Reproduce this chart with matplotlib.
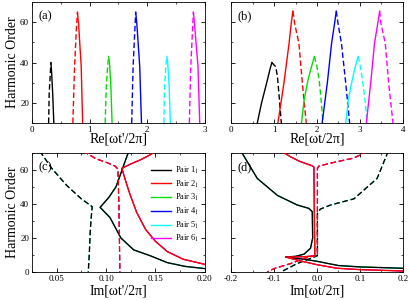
import numpy as np
import matplotlib
matplotlib.use('Agg')
import matplotlib.pyplot as plt
from matplotlib.ticker import MultipleLocator, FormatStrFormatter

plt.rcParams['font.family'] = ['Liberation Serif', 'DejaVu Serif']
plt.rcParams['mathtext.fontset'] = 'stix'

colors = ['k', 'r', '#00e000', '#0000ff', '#00ffff', '#ff00ff']
labels = ['Pair 1$_1$', 'Pair 2$_1$', 'Pair 3$_1$', 'Pair 4$_1$', 'Pair 5$_1$', 'Pair 6$_1$']

# (a) Re[wt'/2pi] vs harmonic order, solid / dashed branch for each pair
a_solid_x = [[0.38, 0.36, 0.34, 0.33], [0.88, 0.855, 0.81, 0.79], [1.39, 1.37, 1.345, 1.33],
             [1.90, 1.87, 1.82, 1.80], [2.40, 2.38, 2.355, 2.34], [2.91, 2.88, 2.82, 2.80]]
a_solid_y = [[10, 25, 36, 40], [10, 38, 59, 65], [10, 28, 40, 43],
             [10, 38, 59, 65], [10, 28, 40, 43], [10, 38, 59, 65]]
a_dash_x = [[0.29, 0.30, 0.32, 0.33], [0.71, 0.74, 0.77, 0.79], [1.27, 1.29, 1.315, 1.33],
            [1.73, 1.755, 1.785, 1.80], [2.29, 2.30, 2.325, 2.34], [2.73, 2.755, 2.785, 2.80]]
a_dash_y = [[10, 25, 35, 40], [10, 38, 56, 65], [10, 28, 39, 43],
            [10, 38, 56, 65], [10, 28, 39, 43], [10, 38, 56, 65]]

# (b) Re[wt/2pi]
b_solid_x = [[0.61, 0.71, 0.83, 0.91, 0.95], [1.09, 1.23, 1.35, 1.40, 1.44], [1.64, 1.70, 1.79, 1.86, 1.94],
             [2.12, 2.24, 2.34, 2.41, 2.45], [2.67, 2.73, 2.82, 2.88, 2.96], [3.15, 3.25, 3.34, 3.42, 3.46]]
b_solid_y = [[10, 20, 30, 37, 40], [10, 29.7, 49.5, 59.4, 65.5], [10, 21.4, 31.3, 37, 43],
             [10, 29.7, 49.5, 59.4, 65.5], [10, 21.4, 31.3, 37, 43], [10, 29.7, 49.5, 60, 65.5]]
b_dash_x = [[0.95, 1.04, 1.08, 1.12, 1.17], [1.44, 1.48, 1.58, 1.66, 1.75], [1.94, 2.00, 2.05, 2.09, 2.14],
            [2.45, 2.49, 2.57, 2.67, 2.76], [2.96, 3.01, 3.06, 3.11, 3.17], [3.46, 3.49, 3.59, 3.67, 3.77]]
b_dash_y = [[40, 37.9, 33, 23, 10], [65.5, 59.4, 49.5, 29.7, 10], [43, 38, 31.3, 23, 10],
            [65.5, 59.4, 49.5, 29.7, 10], [43, 38, 31.3, 23, 10], [65.5, 59.4, 49.5, 29.7, 10]]

# (c) Im[wt'/2pi], pairs 1 and 2 (odd / even pairs coincide)
c_solid_x = [[0.123, 0.118, 0.115, 0.110, 0.103, 0.094, 0.104, 0.115, 0.128, 0.145, 0.162, 0.180, 0.200],
             [0.150, 0.145, 0.135, 0.125, 0.116, 0.119, 0.124, 0.131, 0.140, 0.150, 0.162, 0.178, 0.200]]
c_solid_y = [[71, 63, 58, 50, 44, 38, 32, 20, 13, 9.5, 5.5, 3.3, 2],
             [71, 69, 66, 63.5, 61, 55, 46, 35, 25, 18, 12, 7.5, 4.5]]
c_dash_x = [[0.033, 0.045, 0.060, 0.075, 0.086, 0.085, 0.084, 0.083, 0.082],
            [0.077, 0.090, 0.100, 0.109, 0.112, 0.113, 0.1135, 0.114]]
c_dash_y = [[71, 61, 51, 43, 38.4, 32, 23.7, 10, 0],
            [71, 66.5, 64.5, 62.3, 60.5, 40, 20, 0]]

# (d) Im[wt/2pi]
d_solid_x = [[-0.177, -0.139, -0.092, -0.046, -0.019, -0.011, -0.010, -0.015, -0.030, -0.050, -0.073,
              -0.030, 0.0, 0.050, 0.100, 0.200],
             [-0.086, -0.060, -0.040, -0.012, -0.007, -0.006, -0.005, -0.030, -0.073, -0.040, 0.0, 0.047, 0.100, 0.200]]
d_solid_y = [[71, 55, 45, 39.4, 37.4, 35.5, 20, 14, 10.5, 9.2, 8.8, 7.5, 6.3, 3.8, 3.0, 2.2],
             [71.5, 67.5, 65, 62.5, 61.6, 30, 9.5, 9.0, 8.8, 6.6, 4.3, 2.2, 1.4, 0.6]]
d_dash_x = [[0.166, 0.140, 0.086, 0.032, 0.008, 0.001, 0.001, 0.001, -0.020, -0.046, -0.084],
            [0.117, 0.086, 0.032, 0.004, 0.001, 0.001, 0.001, -0.030, -0.061, -0.100, -0.116]]
d_dash_y = [[71, 55, 43, 39.4, 37, 34.5, 20, 9.6, 7.5, 5, 0],
            [71, 67, 64, 62.2, 60.8, 30, 10, 8, 5, 2, 0]]

fig = plt.figure(figsize=(4.09, 3.0), dpi=100)
ax_a = fig.add_axes([0.078, 0.59, 0.423, 0.403])
ax_b = fig.add_axes([0.565, 0.59, 0.42, 0.403])
ax_c = fig.add_axes([0.078, 0.0933, 0.423, 0.397])
ax_d = fig.add_axes([0.565, 0.0933, 0.42, 0.397])

lw = 1.0
dash = (4, 2)

for i in range(6):
    ax_a.plot(a_solid_x[i], a_solid_y[i], color=colors[i], lw=lw)
    ax_a.plot(a_dash_x[i], a_dash_y[i], color=colors[i], lw=lw, dashes=dash)
    ax_b.plot(b_solid_x[i], b_solid_y[i], color=colors[i], lw=lw)
    ax_b.plot(b_dash_x[i], b_dash_y[i], color=colors[i], lw=lw, dashes=dash)

# pairs 3-6 sit underneath pairs 1-2 in the imaginary parts (thinner, same dash phase)
for i in range(6):
    j = i % 2
    z = 3 if i < 2 else 2
    w = lw if i < 2 else 0.7
    dd = (dash[0] * lw / w, dash[1] * lw / w)
    for ax, sx, sy, dx, dy in [(ax_c, c_solid_x, c_solid_y, c_dash_x, c_dash_y),
                               (ax_d, d_solid_x, d_solid_y, d_dash_x, d_dash_y)]:
        ax.plot(sx[j], sy[j], color=colors[i], lw=w, zorder=z, label=labels[i] if ax is ax_c else None)
        ax.plot(dx[j], dy[j], color=colors[i], lw=w, dashes=dd, zorder=z)

ax_a.set_xlim(0, 3)
ax_a.set_ylim(10, 70)
ax_b.set_xlim(0, 4)
ax_b.set_ylim(10, 70)
ax_c.set_xlim(0.025, 0.2)
ax_c.set_ylim(0, 70)
ax_d.set_xlim(-0.2, 0.2)
ax_d.set_ylim(0, 70)

ax_a.xaxis.set_major_locator(MultipleLocator(1))
ax_b.xaxis.set_major_locator(MultipleLocator(1))
ax_a.xaxis.set_minor_locator(MultipleLocator(0.5))
ax_b.xaxis.set_minor_locator(MultipleLocator(0.5))
ax_c.xaxis.set_major_locator(MultipleLocator(0.05))
ax_c.xaxis.set_minor_locator(MultipleLocator(0.025))
ax_c.xaxis.set_major_formatter(FormatStrFormatter('%.2f'))
ax_d.xaxis.set_major_locator(MultipleLocator(0.1))
ax_d.xaxis.set_minor_locator(MultipleLocator(0.05))
ax_d.xaxis.set_major_formatter(FormatStrFormatter('%.1f'))

for ax in [ax_a, ax_b, ax_c, ax_d]:
    ax.yaxis.set_major_locator(MultipleLocator(20))
    ax.yaxis.set_minor_locator(MultipleLocator(10))
    ax.tick_params(which='both', direction='in', top=True, right=True, labelsize=6.5, pad=2)
    ax.tick_params(which='major', length=3, width=0.6)
    ax.tick_params(which='minor', length=1.5, width=0.5)
    for s in ax.spines.values():
        s.set_linewidth(0.6)

ax_b.tick_params(labelleft=False)
ax_d.tick_params(labelleft=False)

ax_a.set_ylabel('Harmonic Order', fontsize=10, labelpad=1)
ax_c.set_ylabel('Harmonic Order', fontsize=10, labelpad=1)
ax_a.set_xlabel("Re[\u03c9t'/2\u03c0]", fontsize=10, labelpad=-1)
ax_b.set_xlabel("Re[\u03c9t/2\u03c0]", fontsize=10, labelpad=-1)
ax_c.set_xlabel("Im[\u03c9t'/2\u03c0]", fontsize=10, labelpad=1)
ax_d.set_xlabel("Im[\u03c9t/2\u03c0]", fontsize=10, labelpad=1)

for ax, t in [(ax_a, '(a)'), (ax_b, '(b)'), (ax_c, '(c)'), (ax_d, '(d)')]:
    ax.text(0.04, 0.93, t, transform=ax.transAxes, fontsize=9, va='top', ha='left')

leg = ax_c.legend(loc='upper right', fontsize=6, frameon=False, handlelength=2.4, labelspacing=0.3,
                  handletextpad=0.4, borderaxespad=0.3, bbox_to_anchor=(1.0, 0.95))
leg.set_zorder(5)
for h in leg.get_lines():
    h.set_linewidth(lw)

fig.savefig('out.png', dpi=100)
